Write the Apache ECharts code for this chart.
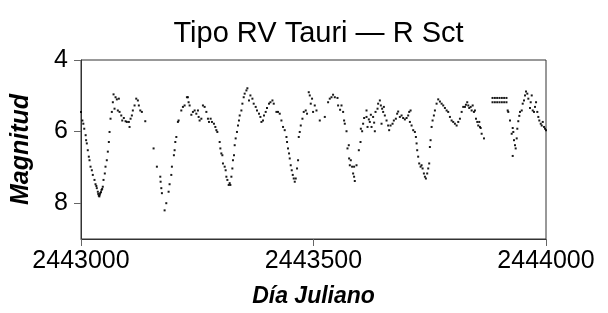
<!DOCTYPE html>
<html>
<head>
<meta charset="utf-8">
<script src="https://cdn.jsdelivr.net/npm/echarts@6/dist/echarts.min.js"></script>
<style>html,body{margin:0;padding:0;background:#fff}#c{width:608px;height:313px}</style>
</head>
<body>
<div id="c"></div>
<script>
const titleText = 'Tipo RV Tauri — R Sct';
const xName = 'Día Juliano';
const yName = 'Magnitud';
const xTicks = [2443000, 2443500, 2444000];
const yTicks = [4, 6, 8];

// [Julian Day, magnitude] observations, grouped by cycle
const cycle1 = [[2443000,5.45],[2443003,5.69],[2443005,5.78],[2443007,5.92],[2443010,6.10],[2443011,6.24],[2443012.5,6.33],[2443014.6,6.52],[2443016.8,6.70],[2443018.3,6.80],[2443020.5,6.98],[2443023.3,7.08],[2443025.4,7.21],[2443029,7.35],[2443031.2,7.47],[2443033,7.52],[2443034,7.58],[2443036.2,7.68],[2443037,7.74],[2443038.3,7.79],[2443039.5,7.81],[2443040.5,7.76],[2443041.3,7.72],[2443043,7.69],[2443044.1,7.63],[2443045.5,7.60],[2443046.9,7.54],[2443048.4,7.35],[2443051.2,7.17],[2443052.7,6.98],[2443055.5,6.80],[2443057.7,6.56],[2443059.9,6.29],[2443061.4,6.01],[2443063.5,5.64],[2443066.3,5.45],[2443068.5,5.18],[2443070,4.96],[2443074.3,5.04],[2443077.1,5.10],[2443081.4,5.08],[2443072.1,5.36],[2443079.2,5.41],[2443082.9,5.45],[2443086.6,5.55],[2443088.7,5.69],[2443092.1,5.62],[2443095.8,5.71],[2443098.6,5.73],[2443102.9,5.73],[2443104.4,5.87],[2443106.6,5.64],[2443109.4,5.55],[2443111.5,5.41],[2443115.2,5.27],[2443118.8,5.08],[2443122.3,5.13],[2443124.4,5.27],[2443127.5,5.41],[2443130.9,5.45],[2443138.2,5.71]];
const cycle2 = [[2443156.1,6.47],[2443163.2,6.98],[2443170.5,7.26],[2443171.2,7.40],[2443172.7,7.58],[2443174,7.72],[2443179.8,8.20],[2443183.4,8.00],[2443188.4,7.68],[2443190.5,7.47],[2443194.2,7.21],[2443195.5,6.98],[2443199.8,6.66],[2443201.3,6.52],[2443202.8,6.29],[2443205,6.15],[2443208.4,5.73],[2443209.9,5.69],[2443215.7,5.41],[2443219.2,5.31],[2443222.8,5.27],[2443227.8,5.04],[2443229.9,5.04],[2443231.4,5.18],[2443233.6,5.27],[2443237.3,5.53],[2443240.7,5.45],[2443244.4,5.41],[2443248,5.50],[2443251.5,5.41],[2443253,5.59],[2443255.1,5.69],[2443258.8,5.64],[2443262.2,5.27],[2443265.9,5.31],[2443269.6,5.45],[2443273,5.64],[2443275.2,5.73],[2443278.8,5.64],[2443281.6,5.73],[2443285.9,5.78],[2443288.9,5.87],[2443291.1,5.96],[2443293.2,6.01],[2443298.2,6.29],[2443299.7,6.47],[2443301.8,6.61],[2443304,6.66],[2443305.3,6.89],[2443309,6.98],[2443311.1,7.08],[2443312.6,7.26],[2443314.8,7.35],[2443317.6,7.49],[2443319.7,7.44]];
const cycle3 = [[2443321.2,7.49],[2443323.4,7.26],[2443325.5,7.03],[2443326.8,6.80],[2443329,6.66],[2443330.5,6.38],[2443332.6,6.19],[2443335.4,6.01],[2443337.6,5.83],[2443339.7,5.69],[2443341.3,5.55],[2443344.9,5.41],[2443347.1,5.22],[2443349.9,5.04],[2443352,4.94],[2443355.7,4.85],[2443357.8,4.79],[2443361.3,5.13],[2443364.3,4.99],[2443368.6,5.08],[2443371.4,5.22],[2443375.7,5.31],[2443378.5,5.41],[2443382.8,5.50],[2443385.8,5.59],[2443388,5.73],[2443391.4,5.69],[2443393.6,5.55],[2443397.2,5.45],[2443400,5.34],[2443404.3,5.22],[2443407.4,5.18],[2443411.7,5.13],[2443414.5,5.22],[2443420.3,5.45],[2443423.7,5.45],[2443427.4,5.50],[2443431,5.69],[2443434.5,5.87],[2443438.1,5.96],[2443441.8,6.15],[2443443.1,6.29],[2443445.2,6.47],[2443447.4,6.61],[2443448.9,6.75],[2443451,6.94],[2443453.2,7.08],[2443455.4,7.21],[2443457.5,7.31],[2443459.7,7.40],[2443461.8,7.31],[2443464.6,7.03],[2443466.8,6.80],[2443468.3,6.15],[2443470.4,6.01],[2443472.6,5.83],[2443476.2,5.64],[2443479,5.45],[2443483.3,5.41],[2443486.1,5.50],[2443489.8,4.90]];
const cycle4 = [[2443492,4.99],[2443494.1,5.22],[2443496.9,5.08],[2443499.1,5.45],[2443502.7,5.27],[2443506.4,5.41],[2443513.5,5.69],[2443524.3,5.59],[2443531.4,5.18],[2443535,5.08],[2443538.7,5.04],[2443542.1,4.97],[2443545.8,5.04],[2443551.6,5.06],[2443552.9,5.27],[2443557.2,5.39],[2443560.2,5.27],[2443563.7,5.45],[2443565.8,5.69],[2443567.3,5.78],[2443571,5.99],[2443573.1,6.47],[2443575.9,6.38],[2443576.6,6.75],[2443578.1,6.94],[2443580.2,6.80],[2443583,6.98],[2443585.2,7.17],[2443587.3,6.98],[2443587.3,7.26],[2443588.8,7.38],[2443592.5,6.94],[2443597.5,6.52],[2443601.1,6.29],[2443601.8,5.92],[2443604.6,5.99],[2443606.7,5.78],[2443608.9,5.62],[2443614,5.41],[2443614,5.59],[2443616.2,5.87],[2443619,5.66],[2443621.1,5.73],[2443623.3,5.53],[2443624.8,5.87],[2443628.2,5.59],[2443630.4,5.75],[2443631.9,5.99],[2443633.4,5.45],[2443637.7,5.36],[2443639,5.22],[2443642.7,5.13],[2443644.8,5.27],[2443646.3,5.78],[2443647.6,5.36],[2443649.8,5.45]];
const cycle5 = [[2443651.3,5.31],[2443653.4,5.55],[2443657.1,5.69],[2443660.5,5.83],[2443662.7,5.96],[2443665.7,5.83],[2443670,5.78],[2443672.8,5.69],[2443677.1,5.64],[2443679.9,5.50],[2443682.1,5.44],[2443685.7,5.59],[2443689.4,5.55],[2443692.8,5.62],[2443696.5,5.66],[2443700.2,5.62],[2443703.6,5.55],[2443705.8,5.45],[2443708.8,5.41],[2443707.3,5.73],[2443710.9,5.83],[2443714.4,5.96],[2443718,6.01],[2443720.2,6.15],[2443721.7,6.33],[2443723,6.52],[2443725.1,6.70],[2443727.3,6.89],[2443730.3,6.98],[2443732.4,6.94],[2443734.6,7.03],[2443737.4,7.17],[2443739.6,7.26],[2443741.7,7.31],[2443744.5,7.17],[2443746.7,7.03],[2443748.8,6.89],[2443750.3,6.43],[2443751.8,6.24],[2443754,5.87],[2443756.1,5.69],[2443758.9,5.55],[2443761.1,5.41],[2443764.7,5.22],[2443768.2,5.10],[2443771.9,5.16],[2443775.5,5.22],[2443779,5.27],[2443782.6,5.34],[2443786.3,5.41],[2443789.7,5.45],[2443793.4,5.59],[2443797,5.69],[2443800.5,5.73],[2443804.1,5.78],[2443807.8,5.83],[2443811.3,5.73],[2443814.9,5.64],[2443818.6,5.45],[2443822,5.31]];
const cycle6 = [[2443825.7,5.31],[2443827.8,5.25],[2443830.6,5.18],[2443832.8,5.27],[2443834.9,5.34],[2443838,5.31],[2443840.1,5.41],[2443842.3,5.27],[2443845,5.45],[2443847.2,5.41],[2443849.4,5.64],[2443852.2,5.73],[2443854.3,5.83],[2443856.5,5.73],[2443858,5.87],[2443859.5,5.90],[2443861.6,6.06],[2443866.6,6.19],[2443885,5.06],[2443890,5.06],[2443895,5.06],[2443900,5.06],[2443905,5.06],[2443910,5.06],[2443915,5.06],[2443885,5.18],[2443890,5.18],[2443895,5.18],[2443900,5.18],[2443905,5.18],[2443910,5.18],[2443915,5.18],[2443917.6,5.41],[2443918.9,5.45],[2443922.6,5.69],[2443926.2,6.06],[2443928.4,5.90],[2443929.7,6.01],[2443931.2,6.24],[2443933.3,6.38],[2443934.8,6.47],[2443928.4,6.68],[2443937,6.19],[2443938.3,5.92],[2443940.4,5.71],[2443942.6,5.56],[2443944.1,5.45],[2443947.8,5.41],[2443949.9,5.22],[2443952.7,5.13],[2443954.9,4.99],[2443957,4.88],[2443959.8,4.94],[2443962,5.08],[2443965.6,5.34],[2443967.1,5.18],[2443969.3,4.99],[2443971.4,5.41],[2443974.2,5.45],[2443976.4,5.31],[2443978.6,5.18],[2443981.3,5.45],[2443983.5,5.59],[2443985.6,5.69],[2443988.7,5.78],[2443990.8,5.83],[2443993,5.73],[2443995.8,5.87],[2443997.9,5.92],[2444000,5.96]];

const observations = [].concat(cycle1, cycle2, cycle3, cycle4, cycle5, cycle6);
const FONT = "'Liberation Sans', Arial, sans-serif";

const chart = echarts.init(document.getElementById('c'), null, {renderer: 'canvas'});
chart.setOption({
  animation: false,
  backgroundColor: '#ffffff',
  title: {
    text: titleText, left: 313.5, top: 14, textAlign: 'center',
    textStyle: {fontFamily: FONT, fontSize: 29, fontWeight: 'normal', color: '#000'}
  },
  grid: {left: 81, right: 62, top: 60, bottom: 72, show: true, borderColor: '#333', borderWidth: 1, backgroundColor: 'transparent'},
  xAxis: {
    type: 'value', min: xTicks[0], max: xTicks[xTicks.length - 1], interval: xTicks[1] - xTicks[0],
    name: xName, nameLocation: 'middle', nameGap: 46,
    nameTextStyle: {fontFamily: FONT, fontSize: 23, fontWeight: 'bold', fontStyle: 'italic', color: '#000'},
    axisLine: {show: true, lineStyle: {color: '#333', width: 1}},
    axisTick: {show: true, inside: false, length: 7, lineStyle: {color: '#666'}},
    axisLabel: {margin: 10, fontFamily: FONT, fontSize: 25, color: '#000', formatter: v => String(v)},
    splitLine: {show: false}
  },
  yAxis: {
    type: 'value', inverse: true, min: yTicks[0], max: 9, interval: yTicks[1] - yTicks[0],
    name: yName, nameLocation: 'middle', nameGap: 47, nameRotate: 90,
    nameTextStyle: {fontFamily: FONT, fontSize: 25, fontWeight: 'bold', fontStyle: 'italic', color: '#000'},
    axisLine: {show: true, lineStyle: {color: '#333', width: 1}},
    axisTick: {show: true, inside: false, length: 7, lineStyle: {color: '#666'}},
    axisLabel: {margin: 13, fontFamily: FONT, fontSize: 25, color: '#000', showMaxLabel: false},
    splitLine: {show: false}
  },
  series: [{
    type: 'scatter', data: observations, symbol: 'rect', symbolSize: 2,
    itemStyle: {color: '#000', opacity: 0.9}, silent: true
  }]
});
</script>
</body>
</html>
